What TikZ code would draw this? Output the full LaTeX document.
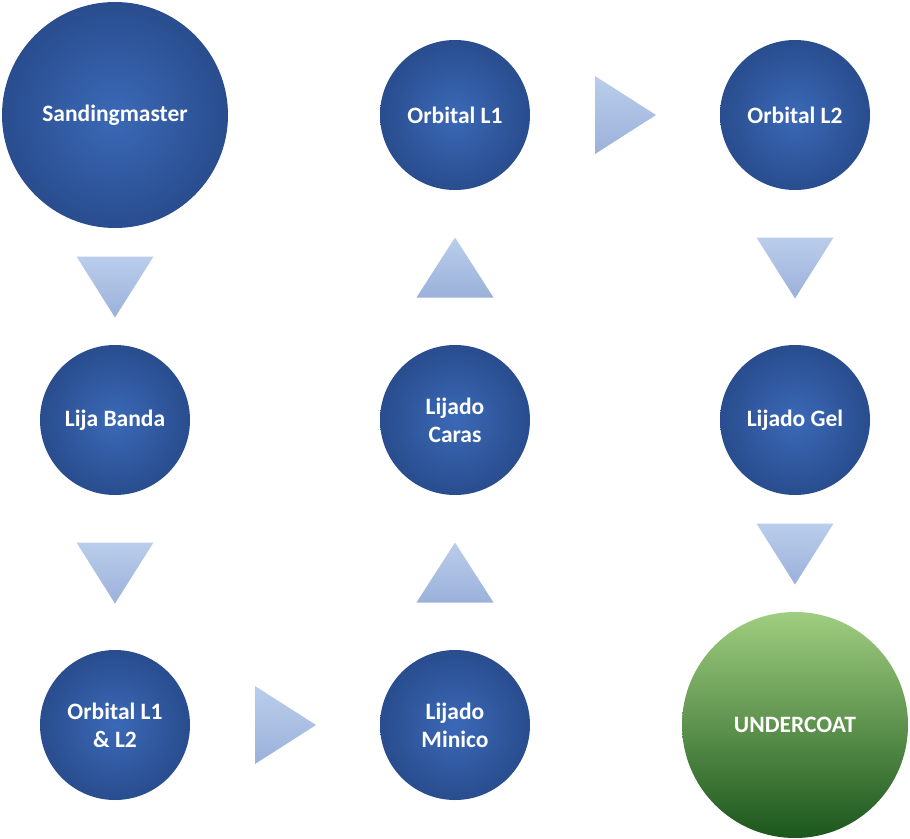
\documentclass[tikz,border=0pt]{standalone}
\usepackage{fontspec}
\setmainfont{Carlito}
\usetikzlibrary{calc}

\definecolor{ballin}{HTML}{3B69B7}
\definecolor{ballout}{HTML}{294D8E}
\definecolor{greentop}{HTML}{A0CE80}
\definecolor{greenmid}{HTML}{62A843}
\definecolor{greenbot}{HTML}{1B561C}
\definecolor{tritop}{HTML}{BACDEB}
\definecolor{tribot}{HTML}{9BB1DA}

\tikzset{
  stage/.style={circle, inner sep=0pt, minimum size=150bp, draw=none,
    shading=radial, inner color=ballin, outer color=ballout,
    text=white, align=center,
    font=\fontsize{23.5bp}{28bp}\selectfont\bfseries},
  bigstage/.style={stage, minimum size=226bp},
  finalstage/.style={bigstage, shading=axis, top color=greentop,
    middle color=greenmid, bottom color=greenbot},
  tri/.style={draw=none, top color=tritop, bottom color=tribot}
}

\begin{document}
\begin{tikzpicture}[x=1bp, y=-1bp]
  \useasboundingbox (0,0) rectangle (910,839);

  % stages
  \node[bigstage]   (sand)  at (115,115) {Sandingmaster};
  \node[stage]      (lija)  at (115,420) {Lija Banda};
  \node[stage]      (orb12) at (115,725) {Orbital L1\\ \& L2};
  \node[stage]      (minico) at (455,725) {Lijado\\ Minico};
  \node[stage]      (caras) at (455,420) {Lijado\\ Caras};
  \node[stage]      (orb1)  at (455,115) {Orbital L1};
  \node[stage]      (orb2)  at (795,115) {Orbital L2};
  \node[stage]      (gel)   at (795,420) {Lijado Gel};
  \node[finalstage] (under) at (795,725) {UNDERCOAT};

  % triangle markers halfway between neighbouring stages
  \coordinate (d1) at ($(sand.south)!0.5!(lija.north)$);
  \coordinate (d2) at ($(lija.south)!0.5!(orb12.north)$);
  \coordinate (r1) at ($(orb12.east)!0.5!(minico.west)$);
  \coordinate (u1) at ($(minico.north)!0.5!(caras.south)$);
  \coordinate (u2) at ($(caras.north)!0.5!(orb1.south)$);
  \coordinate (r2) at ($(orb1.east)!0.5!(orb2.west)$);
  \coordinate (d3) at ($(orb2.south)!0.5!(gel.north)$);
  \coordinate (d4) at ($(gel.south)!0.5!(under.north)$);

  % pointing down
  \foreach \c in {d1,d2,d3,d4}
    \shade[tri] ($(\c)+(-38.5,-30)$) -- ($(\c)+(38.5,-30)$) -- ($(\c)+(0,31)$) -- cycle;
  % pointing up
  \foreach \c in {u1,u2}
    \shade[tri] ($(\c)+(-38.5,30)$) -- ($(\c)+(38.5,30)$) -- ($(\c)+(0,-30)$) -- cycle;
  % pointing right
  \foreach \c in {r1,r2}
    \shade[tri] ($(\c)+(-30,-39)$) -- ($(\c)+(-30,39)$) -- ($(\c)+(31,0)$) -- cycle;
\end{tikzpicture}
\end{document}
